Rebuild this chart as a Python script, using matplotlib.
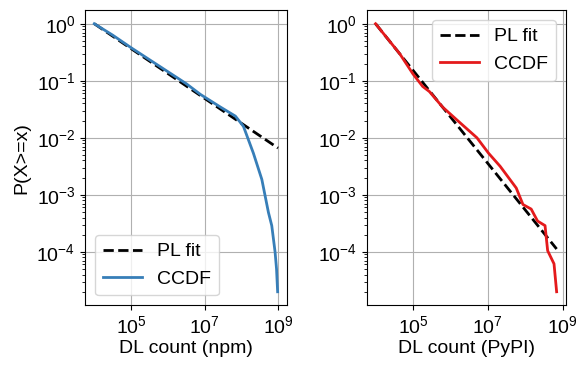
import numpy as np
import matplotlib
matplotlib.use("Agg")
import matplotlib.pyplot as plt
from matplotlib.ticker import LogLocator, NullLocator

plt.rcParams['font.family'] = ['Liberation Sans', 'DejaVu Sans']
plt.rcParams['font.size'] = 14
plt.rcParams['mathtext.fontset'] = 'custom'
plt.rcParams['mathtext.rm'] = 'Liberation Sans'
plt.rcParams['mathtext.it'] = 'Liberation Sans:italic'
plt.rcParams['mathtext.bf'] = 'Liberation Sans:bold'

# npm: log10(x), log10(P(X>=x))
npm_logx = [4.0, 4.5, 5.0, 5.5, 6.0, 6.5, 6.89, 7.43, 7.84, 8.06, 8.33, 8.56, 8.74, 8.83, 8.92, 8.96, 8.99]
npm_logy = [0.0, -0.2, -0.42, -0.63, -0.84, -1.05, -1.24, -1.46, -1.62, -1.80, -2.27, -2.73, -3.31, -3.54, -4.0, -4.3, -4.70]
npm_fit_logx = [4.0, 9.0]
npm_fit_logy = [0.0, -2.18]

# PyPI
pypi_logx = [4.0, 4.65, 5.0, 5.26, 5.44, 5.79, 6.23, 6.71, 7.02, 7.33, 7.76, 7.94, 8.16, 8.33, 8.53, 8.60, 8.77, 8.84]
pypi_logy = [0.0, -0.53, -0.88, -1.1, -1.19, -1.46, -1.72, -2.0, -2.27, -2.50, -2.88, -3.17, -3.25, -3.46, -3.54, -3.98, -4.21, -4.70]
pypi_fit_logx = [4.0, 8.84]
pypi_fit_logy = [0.0, -3.95]

blue = "#377eb8"
red = "#e41a1c"

fig = plt.figure(figsize=(5.79, 3.69), dpi=100)
ax1 = fig.add_axes([0.147, 0.173, 0.349, 0.799])
ax2 = fig.add_axes([0.633, 0.173, 0.344, 0.799])

panels = [
    (ax1, npm_logx, npm_logy, npm_fit_logx, npm_fit_logy, blue, "DL count (npm)", "lower left"),
    (ax2, pypi_logx, pypi_logy, pypi_fit_logx, pypi_fit_logy, red, "DL count (PyPI)", "upper right"),
]

for ax, lx, ly, fx, fy, c, xlabel, loc in panels:
    ax.plot(10 ** np.array(fx), 10 ** np.array(fy), "k--", lw=2, label="PL fit")
    ax.plot(10 ** np.array(lx), 10 ** np.array(ly), color=c, lw=2, label="CCDF")
    ax.set_xscale("log")
    ax.set_yscale("log")
    ax.set_xticks([1e5, 1e7, 1e9])
    ax.xaxis.set_minor_locator(NullLocator())
    ax.set_yticks([1e-4, 1e-3, 1e-2, 1e-1, 1])
    ax.yaxis.set_minor_locator(LogLocator(subs=np.arange(2, 10)))
    ax.grid(True, color="#b0b0b0")
    ax.set_xlabel(xlabel, labelpad=2)
    ax.legend(loc=loc)

ax1.set_ylabel("P(X>=x)")

fig.savefig("out.png", dpi=100)
